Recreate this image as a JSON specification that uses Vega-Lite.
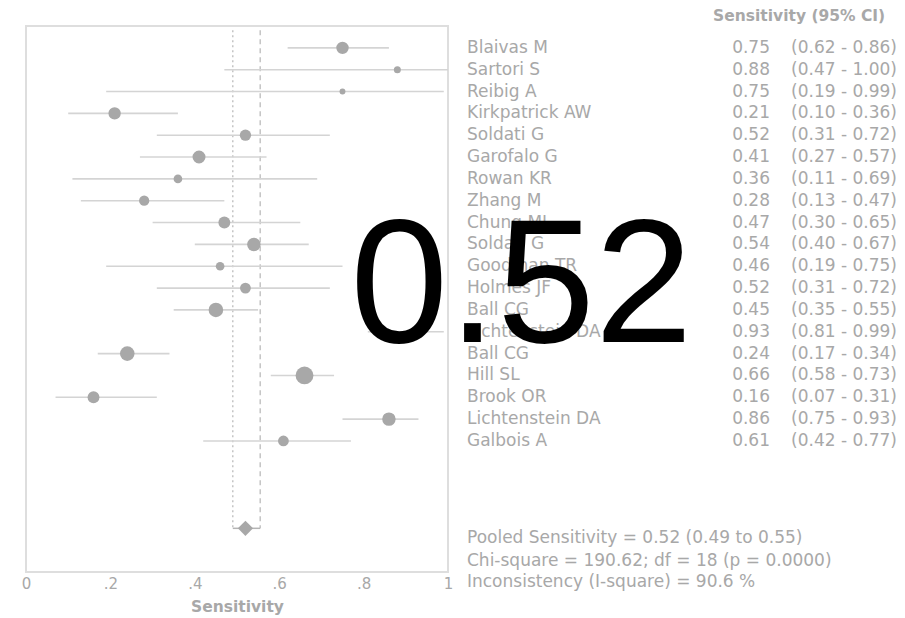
{
  "$schema": "https://vega.github.io/schema/vega-lite/v6.json",
  "width": 422,
  "height": 546,
  "autosize": {"type": "none"},
  "padding": {"left": 26, "top": 26, "right": 457, "bottom": 46},
  "background": "white",
  "config": {
    "view": {"stroke": "#dedede", "strokeWidth": 2},
    "font": "DejaVu Sans"
  },
  "datasets": {
    "studies": [
      {"row": 0, "study": "Blaivas M", "sens": 0.75, "lo": 0.62, "hi": 0.86, "w": 132},
      {"row": 1, "study": "Sartori S", "sens": 0.88, "lo": 0.47, "hi": 1.00, "w": 42},
      {"row": 2, "study": "Reibig A", "sens": 0.75, "lo": 0.19, "hi": 0.99, "w": 30},
      {"row": 3, "study": "Kirkpatrick AW", "sens": 0.21, "lo": 0.10, "hi": 0.36, "w": 132},
      {"row": 4, "study": "Soldati G", "sens": 0.52, "lo": 0.31, "hi": 0.72, "w": 110},
      {"row": 5, "study": "Garofalo G", "sens": 0.41, "lo": 0.27, "hi": 0.57, "w": 144},
      {"row": 6, "study": "Rowan KR", "sens": 0.36, "lo": 0.11, "hi": 0.69, "w": 64},
      {"row": 7, "study": "Zhang M", "sens": 0.28, "lo": 0.13, "hi": 0.47, "w": 90},
      {"row": 8, "study": "Chung MJ", "sens": 0.47, "lo": 0.30, "hi": 0.65, "w": 121},
      {"row": 9, "study": "Soldati G", "sens": 0.54, "lo": 0.40, "hi": 0.67, "w": 156},
      {"row": 10, "study": "Goodman TR", "sens": 0.46, "lo": 0.19, "hi": 0.75, "w": 64},
      {"row": 11, "study": "Holmes JF", "sens": 0.52, "lo": 0.31, "hi": 0.72, "w": 100},
      {"row": 12, "study": "Ball CG", "sens": 0.45, "lo": 0.35, "hi": 0.55, "w": 182},
      {"row": 13, "study": "Lichtenstein DA", "sens": 0.93, "lo": 0.81, "hi": 0.99, "w": 150},
      {"row": 14, "study": "Ball CG", "sens": 0.24, "lo": 0.17, "hi": 0.34, "w": 182},
      {"row": 15, "study": "Hill SL", "sens": 0.66, "lo": 0.58, "hi": 0.73, "w": 272},
      {"row": 16, "study": "Brook OR", "sens": 0.16, "lo": 0.07, "hi": 0.31, "w": 121},
      {"row": 17, "study": "Lichtenstein DA", "sens": 0.86, "lo": 0.75, "hi": 0.93, "w": 156},
      {"row": 18, "study": "Galbois A", "sens": 0.61, "lo": 0.42, "hi": 0.77, "w": 100}
    ],
    "pooled": [
      {"row": 22, "sens": 0.52, "lo": 0.49, "hi": 0.555}
    ],
    "one": [{}]
  },
  "layer": [
    {
      "data": {"name": "pooled"},
      "mark": {"type": "rule", "color": "#c4c4c4", "strokeWidth": 1.5, "strokeDash": [2, 3], "clip": false},
      "encoding": {
        "x": {"field": "lo", "type": "quantitative", "scale": {"domain": [0, 1], "nice": false, "zero": false},
          "axis": {"values": [0, 0.2, 0.4, 0.6, 0.8, 1], "labelExpr": "datum.value == 0 ? '0' : datum.value == 1 ? '1' : replace(format(datum.value, '.1f'), '0.', '.')",
            "ticks": false, "domain": false, "grid": false, "labelFlush": false, "labelPadding": 4, "labelFontSize": 15, "labelColor": "#a8a8a8", "labelFont": "DejaVu Sans",
            "title": "Sensitivity", "titleFontSize": 15.5, "titleFontWeight": "bold", "titleColor": "#a8a8a8", "titlePadding": 8, "titleFont": "DejaVu Sans"}},
        "y": {"datum": -0.8, "type": "quantitative", "scale": {"domain": [-1, 24], "reverse": true, "nice": false, "zero": false}, "axis": null},
        "y2": {"datum": 22}
      }
    },
    {
      "data": {"name": "pooled"},
      "mark": {"type": "rule", "color": "#c4c4c4", "strokeWidth": 1.5, "strokeDash": [5, 4], "clip": false},
      "encoding": {
        "x": {"field": "hi", "type": "quantitative"},
        "y": {"datum": -0.8, "type": "quantitative", "axis": null},
        "y2": {"datum": 22}
      }
    },
    {
      "data": {"name": "studies"},
      "mark": {"type": "rule", "color": "#d4d4d4", "strokeWidth": 1.6, "clip": false},
      "encoding": {
        "x": {"field": "lo", "type": "quantitative"},
        "x2": {"field": "hi"},
        "y": {"field": "row", "type": "quantitative", "axis": null}
      }
    },
    {
      "data": {"name": "studies"},
      "mark": {"type": "circle", "color": "#a8a8a8", "opacity": 1, "clip": false},
      "encoding": {
        "x": {"field": "sens", "type": "quantitative"},
        "y": {"field": "row", "type": "quantitative", "axis": null},
        "size": {"field": "w", "type": "quantitative", "scale": {"domain": [0, 300], "range": [0, 350], "zero": true}, "legend": null}
      }
    },
    {
      "data": {"name": "pooled"},
      "mark": {"type": "rule", "color": "#b4b4b4", "strokeWidth": 1.5, "clip": false},
      "encoding": {
        "x": {"field": "lo", "type": "quantitative"},
        "x2": {"field": "hi"},
        "y": {"field": "row", "type": "quantitative", "axis": null}
      }
    },
    {
      "data": {"name": "pooled"},
      "mark": {"type": "point", "shape": "diamond", "filled": true, "color": "#a8a8a8", "opacity": 1, "size": 230, "clip": false},
      "encoding": {
        "x": {"field": "sens", "type": "quantitative"},
        "y": {"field": "row", "type": "quantitative", "axis": null}
      }
    },
    {
      "data": {"name": "studies"},
      "mark": {"type": "text", "align": "left", "baseline": "middle", "fontSize": 17, "font": "DejaVu Sans", "color": "#a8a8a8", "clip": false},
      "encoding": {
        "x": {"datum": 1.045, "type": "quantitative"},
        "y": {"field": "row", "type": "quantitative", "axis": null},
        "text": {"field": "study"}
      }
    },
    {
      "data": {"name": "studies"},
      "mark": {"type": "text", "align": "right", "baseline": "middle", "fontSize": 17, "font": "DejaVu Sans", "color": "#a8a8a8", "clip": false},
      "encoding": {
        "x": {"datum": 1.763, "type": "quantitative"},
        "y": {"field": "row", "type": "quantitative", "axis": null},
        "text": {"field": "sens", "type": "quantitative", "format": ".2f"}
      }
    },
    {
      "data": {"name": "studies"},
      "transform": [
        {"calculate": "'(' + format(datum.lo, '.2f') + ' - ' + format(datum.hi, '.2f') + ')'", "as": "ci"}
      ],
      "mark": {"type": "text", "align": "right", "baseline": "middle", "fontSize": 17, "font": "DejaVu Sans", "color": "#a8a8a8", "clip": false},
      "encoding": {
        "x": {"datum": 2.064, "type": "quantitative"},
        "y": {"field": "row", "type": "quantitative", "axis": null},
        "text": {"field": "ci"}
      }
    },
    {
      "data": {"name": "one"},
      "mark": {"type": "text", "align": "right", "baseline": "middle", "fontSize": 15.5, "fontWeight": "bold", "font": "DejaVu Sans", "color": "#a8a8a8", "clip": false},
      "encoding": {
        "x": {"datum": 2.036, "type": "quantitative"},
        "y": {"datum": -1.48, "type": "quantitative", "axis": null},
        "text": {"value": "Sensitivity (95% CI)"}
      }
    },
    {
      "data": {"name": "one"},
      "mark": {"type": "text", "align": "left", "baseline": "middle", "fontSize": 17, "font": "DejaVu Sans", "color": "#a8a8a8", "clip": false},
      "encoding": {
        "x": {"datum": 1.045, "type": "quantitative"},
        "y": {"datum": 22.45, "type": "quantitative", "axis": null},
        "text": {"value": "Pooled Sensitivity = 0.52 (0.49 to 0.55)"}
      }
    },
    {
      "data": {"name": "one"},
      "mark": {"type": "text", "align": "left", "baseline": "middle", "fontSize": 17, "font": "DejaVu Sans", "color": "#a8a8a8", "clip": false},
      "encoding": {
        "x": {"datum": 1.045, "type": "quantitative"},
        "y": {"datum": 23.5, "type": "quantitative", "axis": null},
        "text": {"value": "Chi-square = 190.62; df =  18 (p = 0.0000)"}
      }
    },
    {
      "data": {"name": "one"},
      "mark": {"type": "text", "align": "left", "baseline": "middle", "fontSize": 17, "font": "DejaVu Sans", "color": "#a8a8a8", "clip": false},
      "encoding": {
        "x": {"datum": 1.045, "type": "quantitative"},
        "y": {"datum": 24.47, "type": "quantitative", "axis": null},
        "text": {"value": "Inconsistency (I-square) = 90.6 %"}
      }
    },
    {
      "data": {"name": "one"},
      "mark": {"type": "text", "align": "center", "baseline": "alphabetic", "fontSize": 176, "font": "Liberation Sans", "color": "#000000", "clip": false},
      "encoding": {
        "x": {"datum": 1.174, "type": "quantitative"},
        "y": {"datum": 13.48, "type": "quantitative", "axis": null},
        "text": {"value": "0.52"}
      }
    }
  ]
}
